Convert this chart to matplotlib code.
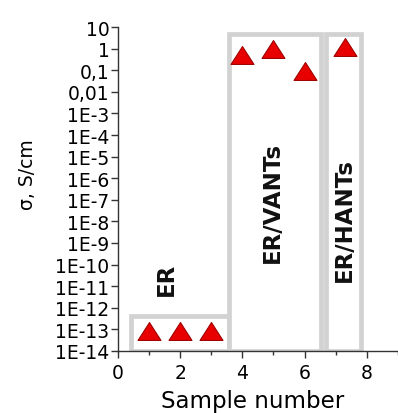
import numpy as np
import matplotlib.pyplot as plt
from matplotlib.patches import Rectangle
from matplotlib.path import Path
from matplotlib.ticker import FixedLocator, MultipleLocator

# conductivity of the samples, S/cm
sample_er = [1, 2, 3]
sigma_er = [8.5e-14, 8.5e-14, 8.5e-14]
sample_vants = [4, 5, 6]
sigma_vants = [0.53, 1.0, 0.09]
sample_hants = [7.3]
sigma_hants = [1.26]

# group frames: (x0, x1, top), label, label position
groups = [(0.42, 3.56, 4.2e-13), (3.56, 6.53, 5.0), (6.68, 7.8, 5.0)]
group_names = ['ER', 'ER/VANTs', 'ER/HANTs']
name_pos = [(1.57, 2.2e-11), (4.95, 8e-8), (7.28, 1.3e-8)]

ytick_vals = [10.0 ** p for p in range(-14, 2)]
ytick_labels = ['1E-14', '1E-13', '1E-12', '1E-11', '1E-10', '1E-9', '1E-8',
                '1E-7', '1E-6', '1E-5', '1E-4', '1E-3', '0,01', '0,1', '1', '10']

# slightly flattened up-triangle
tri = Path([(-1, -0.78), (1, -0.78), (0, 0.78), (-1, -0.78)],
           [Path.MOVETO, Path.LINETO, Path.LINETO, Path.CLOSEPOLY])

fig = plt.figure(figsize=(3.98, 4.14), dpi=100)
ax = fig.add_axes([0.296, 0.150, 0.704, 0.782])

for (x0, x1, top) in groups:
    ax.add_patch(Rectangle((x0, 1e-14), x1 - x0, top - 1e-14, facecolor='white',
                           edgecolor='#d2d2d2', linewidth=3.4, zorder=1))

for name, (px, py) in zip(group_names, name_pos):
    ax.text(px, py, name, rotation=90, ha='center', va='center',
            fontsize=16.5, fontweight='bold', color='#111111', zorder=3)

for xs, ys in [(sample_er, sigma_er), (sample_vants, sigma_vants), (sample_hants, sigma_hants)]:
    ax.plot(xs, ys, linestyle='none', marker=tri, markersize=16.5,
            markerfacecolor='#e80000', markeredgecolor='#a00000',
            markeredgewidth=0.8, zorder=4, clip_on=False)

ax.set_yscale('log')
ax.set_ylim(1e-14, 10)
ax.set_xlim(0, 9)
ax.yaxis.set_major_locator(FixedLocator(ytick_vals))
ax.set_yticklabels(ytick_labels)
ax.yaxis.set_minor_locator(FixedLocator([]))
ax.xaxis.set_major_locator(MultipleLocator(2))
ax.xaxis.set_minor_locator(MultipleLocator(1))

ax.spines['top'].set_visible(False)
ax.spines['right'].set_visible(False)
for s in ['left', 'bottom']:
    ax.spines[s].set_color('#333333')
    ax.spines[s].set_linewidth(1.0)
ax.tick_params(which='major', direction='out', length=5, width=1,
               labelsize=13.5, color='#333333', pad=1)
ax.tick_params(which='minor', direction='out', length=3, width=1, color='#333333')
ax.tick_params(axis='x', pad=4)

ax.set_xlabel('Sample number', fontsize=16.5)
ax.xaxis.set_label_coords(0.48, -0.118)
ax.set_ylabel('σ, S/cm', fontsize=13.5)
ax.yaxis.set_label_coords(-0.29, 0.547)

fig.savefig('out.png', dpi=100)
